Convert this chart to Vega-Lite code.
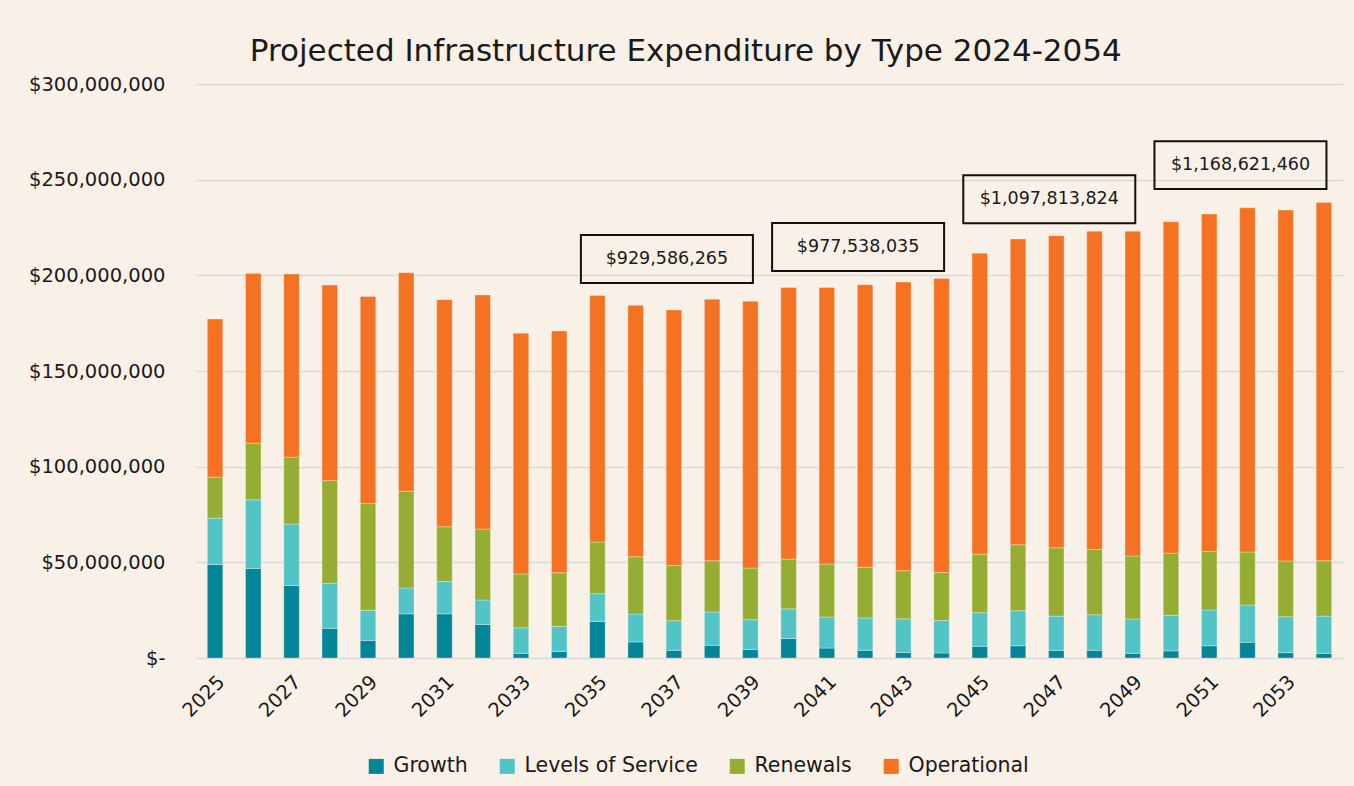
{
  "$schema": "https://vega.github.io/schema/vega-lite/v6.json",
  "width": 1147,
  "height": 574,
  "autosize": {"type": "none"},
  "padding": {"left": 196, "top": 84, "right": 11, "bottom": 128},
  "background": "#F9F0E7",
  "config": {
    "font": "DejaVu Sans",
    "view": {"stroke": null},
    "axis": {"labelColor": "#1a1a1a", "labelFont": "DejaVu Sans"},
    "legend": {"labelFont": "DejaVu Sans"}
  },
  "title": {
    "text": "Projected Infrastructure Expenditure by Type 2024-2054",
    "fontSize": 31,
    "font": "DejaVu Sans",
    "fontWeight": "normal",
    "color": "#1a1a1a",
    "frame": "bounds",
    "anchor": "middle",
    "offset": 6
  },
  "datasets": {
    "spend": [
      {"year": 2025, "Growth": 48900000, "Levels of Service": 24200000, "Renewals": 21400000, "Operational": 82700000},
      {"year": 2026, "Growth": 46800000, "Levels of Service": 35900000, "Renewals": 29600000, "Operational": 88700000},
      {"year": 2027, "Growth": 37900000, "Levels of Service": 32100000, "Renewals": 35000000, "Operational": 95700000},
      {"year": 2028, "Growth": 15500000, "Levels of Service": 23500000, "Renewals": 53700000, "Operational": 102200000},
      {"year": 2029, "Growth": 9200000, "Levels of Service": 15700000, "Renewals": 55800000, "Operational": 108300000},
      {"year": 2030, "Growth": 23100000, "Levels of Service": 13500000, "Renewals": 50600000, "Operational": 114200000},
      {"year": 2031, "Growth": 23100000, "Levels of Service": 16900000, "Renewals": 28600000, "Operational": 118700000},
      {"year": 2032, "Growth": 17500000, "Levels of Service": 12800000, "Renewals": 37100000, "Operational": 122300000},
      {"year": 2033, "Growth": 2400000, "Levels of Service": 13400000, "Renewals": 28100000, "Operational": 125800000},
      {"year": 2034, "Growth": 3400000, "Levels of Service": 13100000, "Renewals": 28000000, "Operational": 126400000},
      {"year": 2035, "Growth": 19100000, "Levels of Service": 14500000, "Renewals": 27000000, "Operational": 128800000},
      {"year": 2036, "Growth": 8400000, "Levels of Service": 14600000, "Renewals": 29900000, "Operational": 131400000},
      {"year": 2037, "Growth": 4000000, "Levels of Service": 15500000, "Renewals": 28900000, "Operational": 133500000},
      {"year": 2038, "Growth": 6600000, "Levels of Service": 17400000, "Renewals": 26800000, "Operational": 136700000},
      {"year": 2039, "Growth": 4500000, "Levels of Service": 15500000, "Renewals": 27000000, "Operational": 139400000},
      {"year": 2040, "Growth": 10200000, "Levels of Service": 15500000, "Renewals": 26000000, "Operational": 142000000},
      {"year": 2041, "Growth": 5200000, "Levels of Service": 16200000, "Renewals": 27700000, "Operational": 144600000},
      {"year": 2042, "Growth": 4000000, "Levels of Service": 16900000, "Renewals": 26600000, "Operational": 147600000},
      {"year": 2043, "Growth": 2900000, "Levels of Service": 17600000, "Renewals": 25100000, "Operational": 150900000},
      {"year": 2044, "Growth": 2600000, "Levels of Service": 17000000, "Renewals": 25100000, "Operational": 153700000},
      {"year": 2045, "Growth": 6100000, "Levels of Service": 17600000, "Renewals": 30600000, "Operational": 157200000},
      {"year": 2046, "Growth": 6400000, "Levels of Service": 18300000, "Renewals": 34500000, "Operational": 159800000},
      {"year": 2047, "Growth": 4000000, "Levels of Service": 17900000, "Renewals": 35700000, "Operational": 163100000},
      {"year": 2048, "Growth": 4000000, "Levels of Service": 18600000, "Renewals": 34100000, "Operational": 166300000},
      {"year": 2049, "Growth": 2400000, "Levels of Service": 18000000, "Renewals": 32900000, "Operational": 169700000},
      {"year": 2050, "Growth": 3700000, "Levels of Service": 18600000, "Renewals": 32500000, "Operational": 173200000},
      {"year": 2051, "Growth": 6400000, "Levels of Service": 18700000, "Renewals": 30600000, "Operational": 176300000},
      {"year": 2052, "Growth": 8200000, "Levels of Service": 19500000, "Renewals": 27700000, "Operational": 179900000},
      {"year": 2053, "Growth": 2800000, "Levels of Service": 18800000, "Renewals": 29100000, "Operational": 183400000},
      {"year": 2054, "Growth": 2400000, "Levels of Service": 19500000, "Renewals": 28900000, "Operational": 187300000}
    ],
    "types": [
      {"type": "Growth", "rank": 1},
      {"type": "Levels of Service", "rank": 2},
      {"type": "Renewals", "rank": 3},
      {"type": "Operational", "rank": 4}
    ],
    "totals": [
      {"year": 2037, "label": "$929,586,265", "y": 208500000},
      {"year": 2042, "label": "$977,538,035", "y": 214800000},
      {"year": 2047, "label": "$1,097,813,824", "y": 239800000},
      {"year": 2052, "label": "$1,168,621,460", "y": 257600000}
    ]
  },
  "layer": [
    {
      "data": {"name": "spend"},
      "transform": [
        {"fold": ["Growth", "Levels of Service", "Renewals", "Operational"], "as": ["type", "amount"]},
        {"lookup": "type", "from": {"data": {"name": "types"}, "key": "type", "fields": ["rank"]}}
      ],
      "mark": {"type": "bar", "stroke": "#ffffff", "strokeWidth": 0.6, "strokeOpacity": 0.5},
      "encoding": {
        "x": {
          "field": "year",
          "type": "ordinal",
          "scale": {"paddingInner": 0.595, "paddingOuter": 0.296},
          "axis": {
            "title": null,
            "values": [2025, 2027, 2029, 2031, 2033, 2035, 2037, 2039, 2041, 2043, 2045, 2047, 2049, 2051, 2053],
            "labelAngle": -45,
            "labelFontSize": 19.5,
            "labelPadding": 14,
            "domain": false,
            "ticks": false,
            "grid": false
          }
        },
        "y": {
          "field": "amount",
          "type": "quantitative",
          "stack": "zero",
          "scale": {"domain": [0, 300000000], "nice": false},
          "axis": {
            "title": null,
            "values": [0, 50000000, 100000000, 150000000, 200000000, 250000000, 300000000],
            "labelExpr": "datum.value === 0 ? '$-' : '$' + format(datum.value, ',')",
            "labelFontSize": 19.5,
            "labelPadding": 31,
            "domain": false,
            "ticks": false,
            "grid": true,
            "gridColor": "#D9D9D9",
            "gridWidth": 1.5
          }
        },
        "order": {"field": "rank", "type": "quantitative", "sort": "ascending"},
        "color": {
          "field": "type",
          "type": "nominal",
          "scale": {
            "domain": ["Growth", "Levels of Service", "Renewals", "Operational"],
            "range": ["#028698", "#52C4C5", "#95AD33", "#F47221"]
          },
          "legend": {
            "title": null,
            "orient": "none",
            "legendX": 170,
            "legendY": 672,
            "padding": 0,
            "direction": "horizontal",
            "symbolType": "square",
            "symbolSize": 225,
            "symbolStrokeWidth": 0,
            "labelFontSize": 20.5,
            "labelLimit": 400,
            "labelColor": "#1a1a1a",
            "labelOffset": 7,
            "columnPadding": 29
          }
        }
      }
    },
    {
      "data": {"name": "totals"},
      "mark": {
        "type": "point",
        "shape": "M-1,-0.279L1,-0.279L1,0.279L-1,0.279Z",
        "size": 29584,
        "filled": false,
        "stroke": "#111111",
        "strokeWidth": 2,
        "opacity": 1,
        "xOffset": -7
      },
      "encoding": {
        "x": {"field": "year", "type": "ordinal"},
        "y": {"field": "y", "type": "quantitative"}
      }
    },
    {
      "data": {"name": "totals"},
      "mark": {"type": "text", "fontSize": 17.5, "color": "#1a1a1a", "xOffset": -7, "baseline": "middle", "align": "center"},
      "encoding": {
        "x": {"field": "year", "type": "ordinal"},
        "y": {"field": "y", "type": "quantitative"},
        "text": {"field": "label"}
      }
    }
  ]
}
